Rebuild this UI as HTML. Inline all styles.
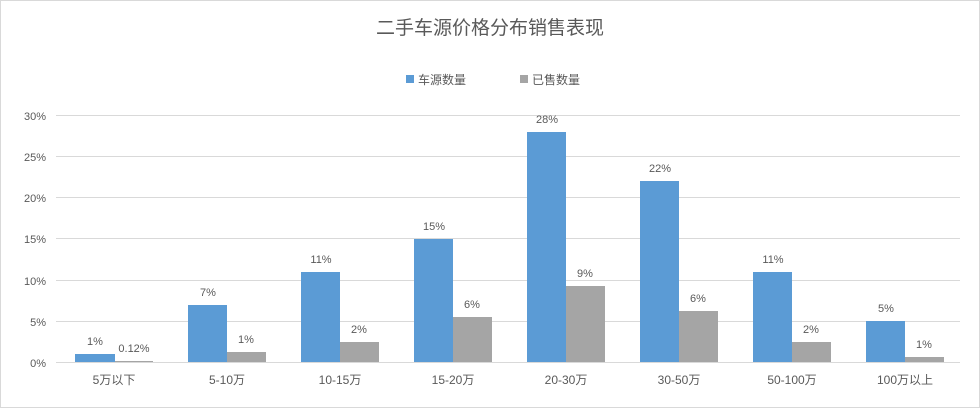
<!DOCTYPE html>
<html><head><meta charset="utf-8"><style>
body{margin:0;background:#fff;}
svg text{font-family:"Liberation Sans","Noto Sans CJK SC",sans-serif;fill:#595959;}
</style></head><body>
<svg width="980" height="408" xmlns="http://www.w3.org/2000/svg">
<rect x="0.5" y="0.5" width="979" height="407" fill="#fff" stroke="#d9d9d9"/>
<text x="490" y="34" font-size="19" text-anchor="middle">二手车源价格分布销售表现</text>
<rect x="406" y="75" width="8" height="8" fill="#5b9bd5"/><text x="418" y="84" font-size="12">车源数量</text>
<rect x="520" y="75" width="8" height="8" fill="#a5a5a5"/><text x="532" y="84" font-size="12">已售数量</text>
<g stroke="#d9d9d9" stroke-width="1">
<line x1="56" x2="960" y1="115.5" y2="115.5"/><line x1="56" x2="960" y1="156.5" y2="156.5"/>
<line x1="56" x2="960" y1="197.5" y2="197.5"/><line x1="56" x2="960" y1="238.5" y2="238.5"/>
<line x1="56" x2="960" y1="280.5" y2="280.5"/><line x1="56" x2="960" y1="321.5" y2="321.5"/>
<line x1="56" x2="960" y1="362.5" y2="362.5"/>
</g>
<g font-size="11" text-anchor="end">
<text x="46" y="120">30%</text><text x="46" y="161">25%</text><text x="46" y="202">20%</text>
<text x="46" y="243">15%</text><text x="46" y="285">10%</text><text x="46" y="326">5%</text><text x="46" y="367">0%</text>
</g>
<g fill="#5b9bd5">
<rect x="75" y="354" width="40" height="8"/><rect x="188" y="305" width="39" height="57"/>
<rect x="301" y="272" width="39" height="90"/><rect x="414" y="239" width="39" height="123"/>
<rect x="527" y="132" width="39" height="230"/><rect x="640" y="181" width="39" height="181"/>
<rect x="753" y="272" width="39" height="90"/><rect x="866" y="321" width="39" height="41"/>
</g>
<g fill="#a5a5a5">
<rect x="115" y="361" width="38" height="1"/><rect x="227" y="352" width="39" height="10"/>
<rect x="340" y="342" width="39" height="20"/><rect x="453" y="317" width="39" height="45"/>
<rect x="566" y="286" width="39" height="76"/><rect x="679" y="311" width="39" height="51"/>
<rect x="792" y="342" width="39" height="20"/><rect x="905" y="357" width="39" height="5"/>
</g>
<g font-size="11" text-anchor="middle">
<text x="95" y="345">1%</text><text x="134" y="352">0.12%</text>
<text x="208" y="296">7%</text><text x="246" y="343">1%</text>
<text x="321" y="263">11%</text><text x="359" y="333">2%</text>
<text x="434" y="230">15%</text><text x="472" y="308">6%</text>
<text x="547" y="123">28%</text><text x="585" y="277">9%</text>
<text x="660" y="172">22%</text><text x="698" y="302">6%</text>
<text x="773" y="263">11%</text><text x="811" y="333">2%</text>
<text x="886" y="312">5%</text><text x="924" y="348">1%</text>
</g>
<g font-size="12" text-anchor="middle">
<text x="114" y="384">5万以下</text><text x="227" y="384">5-10万</text><text x="340" y="384">10-15万</text>
<text x="453" y="384">15-20万</text><text x="566" y="384">20-30万</text><text x="679" y="384">30-50万</text>
<text x="792" y="384">50-100万</text><text x="905" y="384">100万以上</text>
</g>
</svg>
</body></html>
